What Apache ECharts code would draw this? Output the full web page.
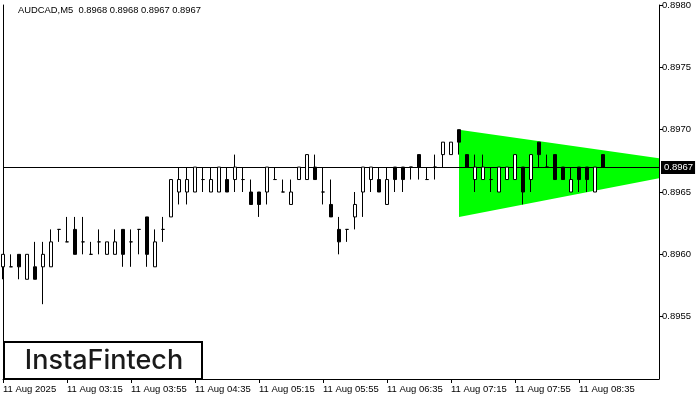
<!DOCTYPE html>
<html>
<head>
<meta charset="utf-8">
<script src="https://cdn.jsdelivr.net/npm/echarts@6/dist/echarts.min.js"></script>
<style>
html,body{margin:0;padding:0;background:#fff;}
#chart{width:700px;height:400px;}
</style>
</head>
<body>
<div id="chart"></div>
<script>
// ---- Data (AUDCAD M5, 11 Aug 2025, bars from 02:35) ----
const titleText = 'AUDCAD,M5  0.8968 0.8968 0.8967 0.8967';
const startMinutes = 2 * 60 + 35;   // first bar 02:35
const slotCount = 83;               // bars + empty space on the right
const opens  = [0.8959,0.8959,0.8960,0.8958,0.8959,0.8959,0.8959,0.8962,0.8961,0.8962,
                0.8961,0.8960,0.8961,0.8960,0.8960,0.8962,0.8961,0.8962,0.8963,0.8959,
                0.8962,0.8963,0.8965,0.8965,0.8965,0.8966,0.8965,0.8965,0.8966,0.8966,
                0.8966,0.8965,0.8965,0.8965,0.8966,0.8965,0.8964,0.8966,0.8966,0.8967,
                0.8965,0.8964,0.8962,0.8962,0.8963,0.8965,0.8966,0.8966,0.8964,0.8967,
                0.8967,0.8967,0.8968,0.8966,0.8967,0.8968,0.8968,0.8970,0.8968,0.8966,
                0.8966,0.8966,0.8965,0.8966,0.8966,0.8967,0.8966,0.8969,0.8967,0.8968,
                0.8967,0.8965,0.8967,0.8967,0.8965,0.8968];
const closes = [0.8960,0.8959,0.8959,0.8960,0.8958,0.8960,0.8961,0.8962,0.8961,0.8960,
                0.8961,0.8960,0.8961,0.8961,0.8961,0.8960,0.8961,0.8962,0.8960,0.8961,
                0.8962,0.8966,0.8966,0.8966,0.8967,0.8966,0.8966,0.8967,0.8965,0.8967,
                0.8966,0.8964,0.8964,0.8967,0.8966,0.8965,0.8965,0.8967,0.8968,0.8966,
                0.8965,0.8963,0.8961,0.8962,0.8964,0.8967,0.8967,0.8965,0.8966,0.8966,
                0.8966,0.8967,0.8967,0.8966,0.8967,0.8969,0.8969,0.8969,0.8967,0.8967,
                0.8967,0.8966,0.8967,0.8967,0.8968,0.8965,0.8968,0.8968,0.8967,0.8966,
                0.8966,0.8966,0.8966,0.8966,0.8967,0.8967];
const lows   = [0.8958,0.8959,0.8958,0.8958,0.8958,0.8956,0.8959,0.8961,0.8961,0.8960,
                0.8960,0.8960,0.8960,0.8960,0.8960,0.8959,0.8959,0.8960,0.8959,0.8959,
                0.8961,0.8963,0.8964,0.8964,0.8965,0.8965,0.8965,0.8965,0.8965,0.8965,
                0.8965,0.8964,0.8963,0.8964,0.8966,0.8965,0.8964,0.8966,0.8966,0.8966,
                0.8964,0.8963,0.8960,0.8961,0.8962,0.8963,0.8965,0.8965,0.8964,0.8965,
                0.8965,0.8966,0.8966,0.8966,0.8966,0.8967,0.8968,0.8968,0.8967,0.8965,
                0.8966,0.8965,0.8965,0.8966,0.8966,0.8964,0.8965,0.8967,0.8967,0.8966,
                0.8966,0.8965,0.8965,0.8965,0.8965,0.8967];
const highs  = [0.8960,0.8960,0.8960,0.8960,0.8961,0.8961,0.8962,0.8962,0.8963,0.8963,
                0.8963,0.8961,0.8962,0.8961,0.8962,0.8962,0.8962,0.8962,0.8963,0.8962,
                0.8963,0.8966,0.8967,0.8967,0.8967,0.8967,0.8967,0.8967,0.8967,0.8968,
                0.8967,0.8966,0.8965,0.8967,0.8967,0.8966,0.8966,0.8967,0.8968,0.8968,
                0.8967,0.8966,0.8963,0.8962,0.8965,0.8967,0.8967,0.8967,0.8967,0.8967,
                0.8967,0.8967,0.8968,0.8967,0.8968,0.8969,0.8969,0.8970,0.8968,0.8968,
                0.8968,0.8967,0.8967,0.8967,0.8968,0.8967,0.8968,0.8969,0.8968,0.8968,
                0.8967,0.8967,0.8967,0.8967,0.8967,0.8968];
const currentPrice = 0.8967;
// symmetrical triangle pattern (bar index, upper edge, lower edge)
const patternX     = [57, 82];
const patternUpper = [0.8970, 0.89677];
const patternLower = [0.8963, 0.89661];
const yMin = 0.8950, yMax = 0.8980, yStep = 0.0005;

// ---- Build ----
const categories = [];
for (let k = 0; k < slotCount; k++) {
  const m = startMinutes + 5 * k;
  const hh = String(Math.floor(m / 60) % 24).padStart(2, '0');
  const mm = String(m % 60).padStart(2, '0');
  categories.push(hh + ':' + mm);
}
const ohlc = opens.map((o, i) => [o, closes[i], lows[i], highs[i]]);
const showTick = (idx) => idx % 8 === 0 && idx <= 72;

const chart = echarts.init(document.getElementById('chart'), null, {renderer: 'canvas'});
const axisFont = 'Liberation Sans';
chart.setOption({
  animation: false,
  backgroundColor: '#ffffff',
  title: {
    text: titleText, left: 18, top: 6, padding: 0,
    textStyle: {fontSize: 9.4, fontWeight: 'normal', color: '#000', fontFamily: axisFont}
  },
  grid: {left: 3, right: 41, top: 4, bottom: 21, containLabel: false},
  xAxis: {
    type: 'category', data: categories, boundaryGap: false,
    axisLine: {show: true, lineStyle: {color: '#000', width: 1}},
    axisTick: {show: true, length: 4, interval: showTick, lineStyle: {color: '#000'}},
    axisLabel: {
      show: true, interval: showTick, align: 'left', margin: 5,
      fontSize: 9.5, color: '#000', fontFamily: axisFont,
      formatter: (v, idx) => idx === 0 ? '11 Aug 2025' : '11 Aug ' + v
    },
    splitLine: {show: false}
  },
  yAxis: [{
    type: 'value', position: 'right', min: yMin, max: yMax, interval: yStep,
    axisLine: {show: true, lineStyle: {color: '#000', width: 1}},
    axisTick: {show: true, length: 4, lineStyle: {color: '#000'}},
    axisLabel: {show: true, margin: 3, fontSize: 9.5, color: '#000', fontFamily: axisFont,
      showMinLabel: false, formatter: v => v.toFixed(4)},
    splitLine: {show: false}
  }, {
    type: 'value', position: 'left', min: 0, max: 1,
    axisLine: {show: true, lineStyle: {color: '#000', width: 1}},
    axisTick: {show: false}, axisLabel: {show: false}, splitLine: {show: false}
  }],
  series: [{
    type: 'custom', z: 1, clip: false, silent: true,
    data: [[patternX[0], patternUpper[0]]],
    renderItem: (params, api) => {
      const cs = params.coordSys;
      const a = api.coord([patternX[0], patternUpper[0]]);
      const b = api.coord([patternX[1], patternUpper[1]]);
      const c = api.coord([patternX[1], patternLower[1]]);
      const d = api.coord([patternX[0], patternLower[0]]);
      const py = Math.floor(api.coord([0, currentPrice])[1]) + 0.5;
      return {type: 'group', children: [
        {type: 'polygon', shape: {points: [a, b, c, d]}, style: {fill: '#00ff00', stroke: null}},
        {type: 'line', shape: {x1: cs.x, y1: py, x2: cs.x + cs.width, y2: py},
          style: {stroke: '#000', lineWidth: 1}},
        {type: 'text', x: cs.x + cs.width + 2, y: py,
          style: {text: currentPrice.toFixed(4), fill: '#fff', backgroundColor: '#000',
            padding: [2, 2, 1, 3], fontSize: 9.5, fontFamily: axisFont,
            align: 'left', verticalAlign: 'middle'}}
      ]};
    }
  }, {
    type: 'candlestick', z: 3, clip: true, data: ohlc, barWidth: 4,
    itemStyle: {color: '#ffffff', color0: '#000000', borderColor: '#000000',
      borderColor0: '#000000', borderColorDoji: '#000000', borderWidth: 1}
  }],
  graphic: [{
    type: 'group', left: 3, top: 341,
    children: [{
      type: 'rect', shape: {x: 0, y: 0, width: 198, height: 37},
      style: {fill: '#fff', stroke: '#000', lineWidth: 2}
    }, {
      type: 'text', x: 100, y: 19,
      style: {text: 'InstaFintech', fontSize: 27, fontFamily: 'Inter', fontWeight: 500,
        fill: '#1a1a1a', align: 'center', verticalAlign: 'middle'}
    }]
  }]
});
</script>
</body>
</html>
